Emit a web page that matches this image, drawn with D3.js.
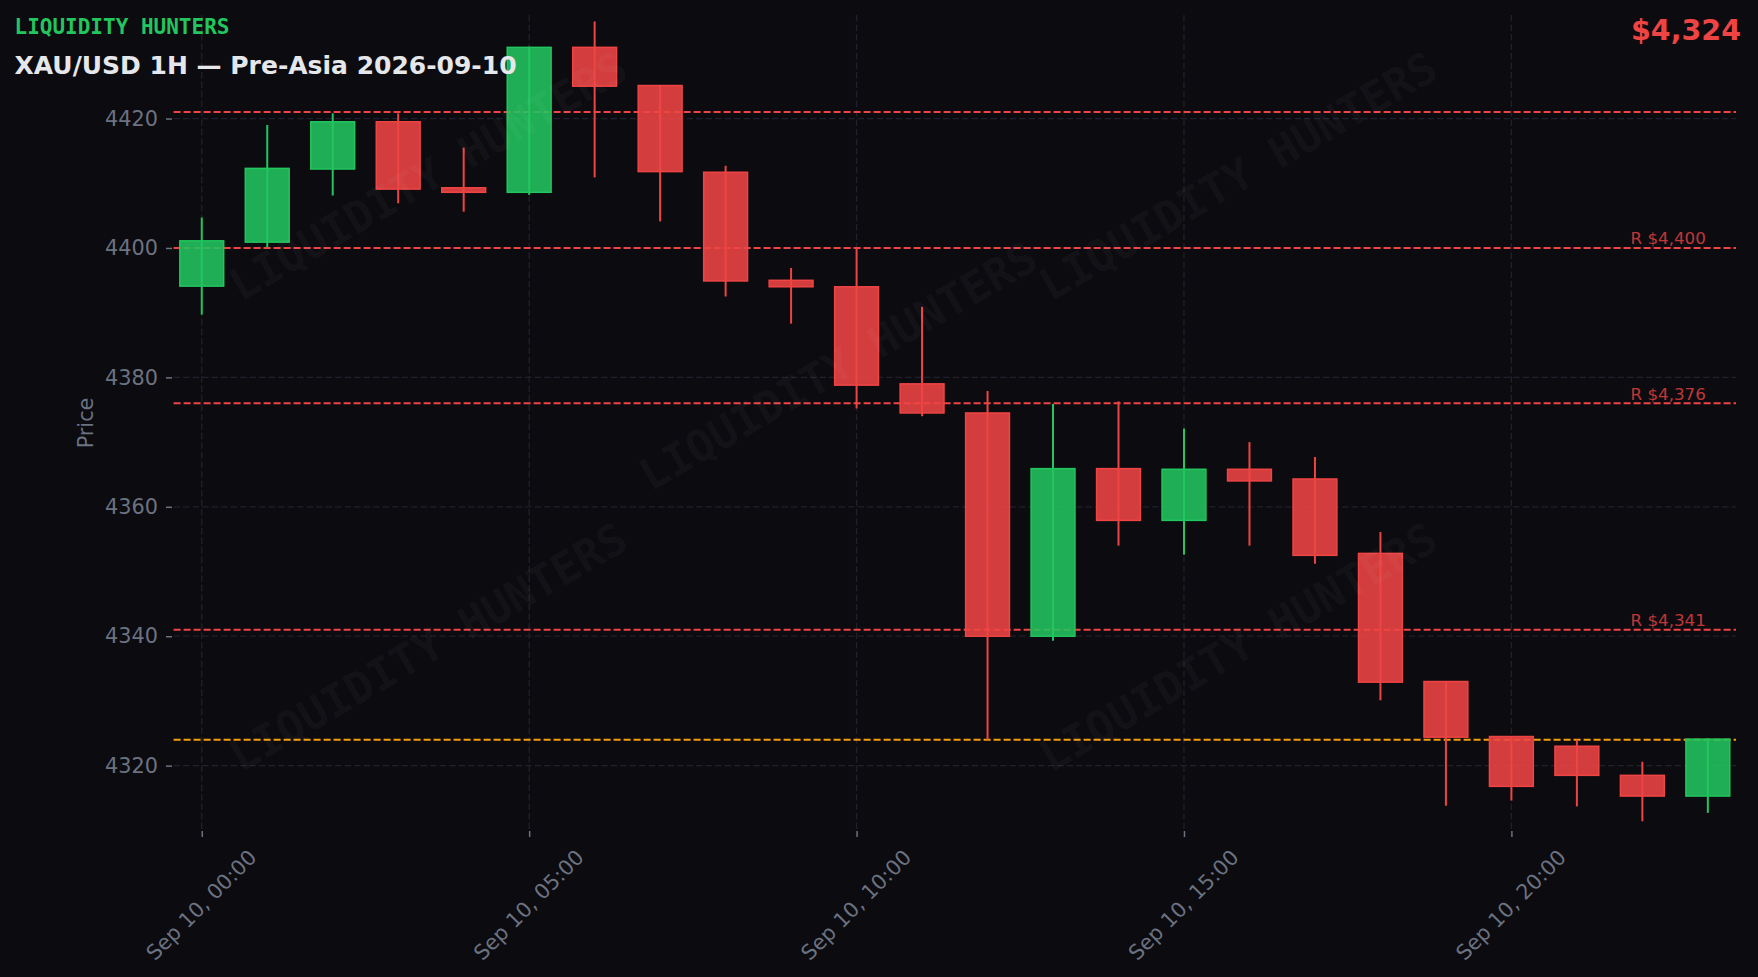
<!DOCTYPE html>
<html>
<head>
<meta charset="utf-8">
<script src="https://cdn.jsdelivr.net/npm/d3@7"></script>
<style>
  html, body { margin: 0; padding: 0; background: #0b0b10; }
  svg { display: block; }
</style>
</head>
<body>
<script>
// ---------------- DATA ----------------
const hours  = [0,1,2,3,4,5,6,7,8,9,10,11,12,13,14,15,16,17,18,19,20,21,22,23];
const opens  = [4394.1,4400.9,4412.2,4419.5,4409.3,4408.6,4431.0,4425.1,4411.7,4395.0,4394.0,4379.0,4374.5,4340.0,4365.9,4357.9,4365.8,4364.3,4352.8,4333.0,4324.5,4323.0,4318.5,4315.3];
const highs  = [4404.7,4419.0,4420.8,4420.8,4415.5,4431.1,4435.0,4425.2,4412.7,4396.9,4399.9,4390.9,4377.9,4375.9,4376.3,4372.1,4370.0,4367.7,4356.1,4333.0,4324.5,4324.0,4320.6,4324.2];
const lows   = [4389.7,4400.1,4408.1,4406.9,4405.6,4408.2,4410.9,4404.1,4392.5,4388.3,4375.2,4374.0,4324.0,4339.3,4354.0,4352.6,4354.0,4351.2,4330.1,4313.8,4314.6,4313.7,4311.4,4312.7];
const closes = [4401.1,4412.3,4419.5,4409.1,4408.6,4431.0,4425.0,4411.8,4394.9,4394.0,4378.8,4374.5,4340.0,4365.9,4357.9,4365.8,4364.0,4352.5,4332.9,4324.4,4316.8,4318.5,4315.3,4324.1];

const resistanceLevels = [4421, 4400, 4376, 4341];
const labeledLevels    = [4400, 4376, 4341];
const lastPrice = 4324;
const yTickValues = [4320, 4340, 4360, 4380, 4400, 4420];
const xTickHours  = [0, 5, 10, 15, 20];
const brandText = "LIQUIDITY HUNTERS";
const titleText = "XAU/USD 1H \u2014 Pre-Asia 2026-09-10";
const yLabel = "Price";

// ---------------- LAYOUT ----------------
const W = 1758, H = 977;
const plot = { left: 173.6, right: 1736, top: 15, bottom: 831 };
const base = new Date(2026, 8, 10, 0, 0, 0);
const t = h => new Date(base.getTime() + h * 3600e3);

const x = d3.scaleTime()
  .domain([t(-0.43), t(23.43)])
  .range([plot.left, plot.right]);
const y = d3.scaleLinear()
  .domain([4309.9, 4436.0])
  .range([plot.bottom, plot.top]);

const candles = hours.map((h, i) => ({ h, o: opens[i], hi: highs[i], lo: lows[i], c: closes[i] }));

const GREEN = "#22c55e", RED = "#ef4444", ORANGE = "#f59e0b", GRAY = "#6b7280", GRID = "#20212a";

const svg = d3.select("body").append("svg").attr("width", W).attr("height", H);
svg.append("rect").attr("width", W).attr("height", H).attr("fill", "#0b0b10");

// grid
const grid = svg.append("g");
grid.selectAll("line.hg").data(yTickValues).join("line")
  .attr("x1", plot.left).attr("x2", plot.right)
  .attr("y1", d => y(d)).attr("y2", d => y(d))
  .attr("stroke", GRID).attr("stroke-width", 1.3).attr("stroke-dasharray", "6.5,3");
grid.selectAll("line.vg").data(xTickHours).join("line")
  .attr("x1", d => x(t(d))).attr("x2", d => x(t(d)))
  .attr("y1", plot.top).attr("y2", plot.bottom)
  .attr("stroke", GRID).attr("stroke-width", 1.3).attr("stroke-dasharray", "6.5,3");

// axes
const yAxis = d3.axisLeft(y).tickValues(yTickValues).tickSize(6).tickPadding(8).tickFormat(d3.format("d"));
const gy = svg.append("g").attr("transform", `translate(${plot.left - 1.6},0)`).call(yAxis);
gy.select(".domain").remove();
gy.selectAll(".tick line").attr("stroke", GRAY).attr("stroke-width", 1.5);
gy.selectAll(".tick text").attr("fill", GRAY).style("font-family", "DejaVu Sans").style("font-size", "20.8px");

const xAxis = d3.axisBottom(x).tickValues(xTickHours.map(t)).tickSize(6).tickFormat(d3.timeFormat("%b %d, %H:%M"));
const gx = svg.append("g").attr("transform", `translate(0,${plot.bottom})`).call(xAxis);
gx.select(".domain").remove();
gx.selectAll(".tick line").attr("stroke", GRAY).attr("stroke-width", 1.5);
gx.selectAll(".tick text")
  .attr("fill", GRAY).style("font-family", "DejaVu Sans").style("font-size", "20.8px")
  .attr("x", 0).attr("y", 0).attr("dy", "0.35em")
  .attr("text-anchor", "middle")
  .attr("transform", "translate(-1,74) rotate(-45)");

svg.append("text")
  .attr("transform", `translate(86,${(plot.top + plot.bottom) / 2}) rotate(-90)`)
  .attr("text-anchor", "middle").attr("dy", "0.35em")
  .attr("fill", GRAY).style("font-family", "DejaVu Sans").style("font-size", "20.8px")
  .text(yLabel);

// level lines
svg.selectAll("line.res").data(resistanceLevels).join("line")
  .attr("x1", plot.left).attr("x2", plot.right)
  .attr("y1", d => y(d)).attr("y2", d => y(d))
  .attr("stroke", RED).attr("stroke-width", 2).attr("stroke-dasharray", "7,3");
svg.append("line")
  .attr("x1", plot.left).attr("x2", plot.right)
  .attr("y1", y(lastPrice)).attr("y2", y(lastPrice))
  .attr("stroke", ORANGE).attr("stroke-width", 2).attr("stroke-dasharray", "7,3");

svg.selectAll("text.reslab").data(labeledLevels).join("text")
  .attr("x", x(t(23)) - 2).attr("y", d => y(d) - 3.5)
  .attr("text-anchor", "end")
  .attr("fill", RED).attr("fill-opacity", 0.8)
  .style("font-family", "DejaVu Sans").style("font-size", "16.7px")
  .text(d => "R " + d3.format("$,")(d));

// candles
const bodyW = x(t(0.67)) - x(t(0));
const cg = svg.append("g");
cg.selectAll("line.wick").data(candles).join("line")
  .attr("x1", d => x(t(d.h))).attr("x2", d => x(t(d.h)))
  .attr("y1", d => y(d.hi)).attr("y2", d => y(d.lo))
  .attr("stroke", d => d.c >= d.o ? GREEN : RED).attr("stroke-width", 2);
cg.selectAll("rect.body").data(candles).join("rect")
  .attr("x", d => x(t(d.h)) - bodyW / 2)
  .attr("width", bodyW)
  .attr("y", d => y(Math.max(d.o, d.c)))
  .attr("height", d => Math.max(1.5, Math.abs(y(d.o) - y(d.c))))
  .attr("fill", d => d.c >= d.o ? GREEN : RED).attr("fill-opacity", 0.88)
  .attr("stroke", d => d.c >= d.o ? GREEN : RED).attr("stroke-width", 1.5);

// watermarks
const wmCenters = [[428,176],[838,366],[1238,176],[428,647],[1238,647]];
svg.selectAll("text.wm").data(wmCenters).join("text")
  .attr("transform", d => `translate(${d[0]},${d[1]}) rotate(-30)`)
  .attr("text-anchor", "middle").attr("dy", "0.35em")
  .attr("fill", "#ffffff").attr("fill-opacity", 0.045)
  .style("font-family", "DejaVu Sans Mono").style("font-weight", "bold").style("font-size", "44px")
  .text(brandText);

// header texts
svg.append("text").attr("x", 14.5).attr("y", 34)
  .attr("fill", GREEN).style("font-family", "DejaVu Sans Mono").style("font-weight", "bold").style("font-size", "21px")
  .text(brandText);
svg.append("text").attr("x", 14.5).attr("y", 74)
  .attr("fill", "#e5e7eb").style("font-family", "DejaVu Sans").style("font-weight", "bold").style("font-size", "25px")
  .text(titleText);
svg.append("text").attr("x", 1741).attr("y", 39.5).attr("text-anchor", "end")
  .attr("fill", RED).style("font-family", "DejaVu Sans").style("font-weight", "bold").style("font-size", "28.5px")
  .text(d3.format("$,")(Math.round(closes[closes.length - 1])));
</script>
</body>
</html>
